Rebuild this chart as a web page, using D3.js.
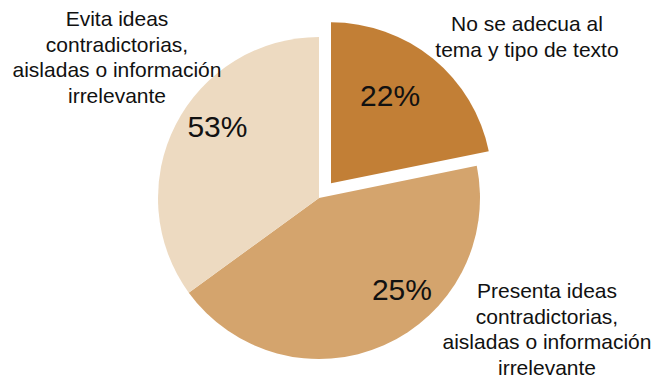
<!DOCTYPE html>
<html lang="es">
<head>
<meta charset="UTF-8"/>
<title>Pie</title>
<script src="https://d3js.org/d3.v7.min.js"></script>
<style>
	body { margin: 0; background: #fff; }
	.cat { font-family: "Liberation Sans", Arial, sans-serif; font-size: 21px; fill: #111; }
	.pct { font-family: "Liberation Sans", Arial, sans-serif; font-size: 30px; fill: #111; }
</style>
</head>
<body>
<div id="chart"></div>
<script>
	// slices in drawing order, clockwise from 12 o'clock
	var categories = [
		"No se adecua al tema y tipo de texto",
		"Presenta ideas contradictorias, aisladas o información irrelevante",
		"Evita ideas contradictorias, aisladas o información irrelevante"
	];
	// share of the circle each slice takes in the picture
	var sliceShares = [21.8, 43.2, 35.0];
	// printed percentages
	var pctLabels = ["22%", "25%", "53%"];
	var colors = ["#c27f36", "#d4a46d", "#eddac1"];
	var explode = [19, 0, 0];
	var pctAngle = [35, 138, 305]; // degrees, where the % text sits
	var labelLines = [
		["No se adecua al", "tema y tipo de texto"],
		["Presenta ideas", "contradictorias,", "aisladas o información", "irrelevante"],
		["Evita ideas", "contradictorias,", "aisladas o información", "irrelevante"]
	];
	var labelPos = [[527, 31], [547, 298], [117, 26]];

	var w = 657, h = 385;
	var cx = 319, cy = 198, r = 161;
	var lineH = 25.7;

	var svg = d3.select("#chart").append("svg")
		.attr("width", w)
		.attr("height", h);

	var pie = d3.pie().sort(null).value(function(d) { return d; });
	var arcs = pie(sliceShares);
	var arc = d3.arc().innerRadius(0).outerRadius(r);

	var g = svg.append("g").attr("transform", "translate(" + cx + "," + cy + ")");

	g.selectAll("path")
		.data(arcs)
		.enter().append("path")
		.attr("d", arc)
		.attr("fill", function(d, i) { return colors[i]; })
		.attr("transform", function(d, i) {
			var a = (d.startAngle + d.endAngle) / 2;
			return "translate(" + (explode[i] * Math.sin(a)) + "," + (-explode[i] * Math.cos(a)) + ")";
		});

	g.selectAll("text.pct")
		.data(arcs)
		.enter().append("text")
		.attr("class", "pct")
		.attr("text-anchor", "middle")
		.attr("x", function(d, i) { return 124 * Math.sin(pctAngle[i] * Math.PI / 180); })
		.attr("y", function(d, i) { return -124 * Math.cos(pctAngle[i] * Math.PI / 180) + 10; })
		.text(function(d, i) { return pctLabels[i]; });

	// category labels, one text per slice, one tspan per line
	labelLines.forEach(function(lines, i) {
		var t = svg.append("text")
			.attr("class", "cat")
			.attr("text-anchor", "middle")
			.attr("y", labelPos[i][1]);
		t.selectAll("tspan")
			.data(lines)
			.enter().append("tspan")
			.attr("x", labelPos[i][0])
			.attr("dy", function(d, j) { return j === 0 ? 0 : lineH; })
			.text(function(d) { return d; });
	});
</script>
</body>
</html>
